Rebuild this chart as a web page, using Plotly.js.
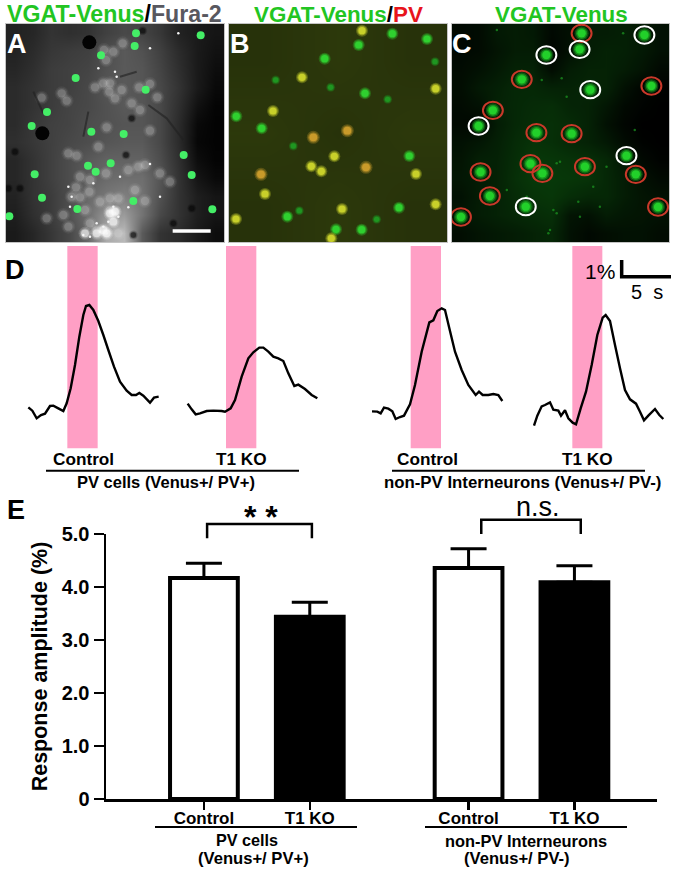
<!DOCTYPE html>
<html>
<head>
<meta charset="utf-8">
<script src="https://cdn.plot.ly/plotly-3.0.1.min.js"></script>
<style>body{margin:0;background:#fff}#chart{width:675px;height:871px}</style>
</head>
<body>
<div id="chart"></div>
<script>

// --- Panel A ---
const aGrey = [
  [34,38,51,47,51,64,72,68,55,34,26,21],
  [34,43,55,60,64,77,89,81,64,43,26,17],
  [38,47,60,64,68,81,89,85,68,47,26,13],
  [43,51,60,64,72,85,89,85,72,51,26,9],
  [43,51,60,68,72,81,89,85,72,47,17,4],
  [43,55,64,68,77,81,85,85,72,43,9,3],
  [47,55,64,72,77,85,89,89,72,43,7,3],
  [38,51,64,77,89,98,98,98,77,47,13,4],
  [38,51,64,77,94,106,110,110,85,51,21,9],
  [34,51,60,77,106,119,128,115,81,51,30,21],
  [30,47,60,81,110,150,155,115,72,51,30,21],
  [26,38,55,72,105,170,185,90,51,43,26,13]
];
const aSomaX = [368,340,312,318,310,330,285,328,365,418,450,185,200,125,395,345,472,420,450,230,205,320,295,415,385,435,318,270,240,228,215,240,268,255,205,140,270,330,355,330,300,345,435,405,480,510,190,290,320,340,355];
const aSomaY = [130,155,150,180,250,250,262,275,270,262,252,280,302,293,310,295,292,330,392,467,460,382,440,500,510,495,520,540,530,562,590,592,575,630,680,655,670,630,595,595,605,635,603,570,520,545,645,690,700,640,700];
const aCellX = [408,602,404,303,227,437,141,95,274,371,551,264,287,332,104,575,126,232,637,28,400];
const aCellY = [100,106,138,166,234,269,336,378,395,402,465,497,515,490,523,525,593,627,628,649,603];
const aHoleX = [268,127];
const aHoleY = [127,400];
const aDarkX = [60,25,378,428,395,45,520,575,400];
const aDarkY = [565,565,465,92,355,455,670,625,705];
const aVesselX = [100,130,null,265,250,null,445,500,550,null,360,410];
const aVesselY = [275,340,null,335,410,null,315,355,420,null,230,215];
const aSpotX = [350,345,295,280,215,205,210,385,360,450,330,345,310,320,270,250,300,355,325,340,290,535,450,480];
const aSpotY = [230,215,205,550,590,560,620,622,530,492,635,640,680,700,710,705,695,650,665,620,670,100,145,590];
const aClumpX = [330,345,310,320,290,255,340];
const aClumpY = [640,635,690,700,700,700,665];
const scaleBarX = [518,632];
const scaleBarY = [693,693];

// --- Panel B (x continues over the crop boundary at 1020) ---
const bGreenX = [974,709,785,862,1008,1177,1076,1281,1095,1228,1197,1085];
const bGreenY = [176,349,385,650,688,101,135,117,280,468,623,689];
const bDimX = [827,992,880,898,1305,1163,1130];
const bDimY = [240,262,438,632,185,298,658];
const bYellowX = [906,819,1003,934,964,795,708,994,1086,1307,1248,1307,1026];
const bYellowY = [232,333,469,499,514,582,657,715,92,266,522,613,627];
const bOrangeX = [940,783,1042,1098];
const bOrangeY = [412,523,392,502];

// --- Panel C ---
const cGreen = [
  [8,10,22,25,22,8,14,25,25,28,22,14],
  [8,10,18,25,25,5,15,25,30,28,22,14],
  [10,15,22,30,30,10,25,30,30,25,18,8],
  [12,22,28,35,35,30,30,32,30,15,5,2],
  [10,15,30,35,38,40,32,30,20,8,3,0],
  [8,5,25,35,40,42,38,30,15,5,0,0],
  [15,20,28,38,45,42,35,30,22,10,2,0],
  [18,28,30,40,50,48,45,42,35,20,8,2],
  [20,25,30,42,50,50,48,45,35,25,15,8],
  [15,25,30,38,45,48,40,35,35,25,18,15],
  [20,25,30,35,38,42,18,15,25,20,18,15],
  [12,18,22,25,30,35,15,8,12,15,15,10]
];
const cRedX = [725,545,935,458,589,695,421,571,607,735,888,449,955,362];
const cRedY = [100,238,258,331,398,401,516,491,520,500,523,588,621,651];
const cWhiteX = [914,619,719,751,415,860,557];
const cWhiteY = [105,165,148,269,378,467,620];
const cSpeckX = [640,630,715,660,650,560,500,665,605,680,760,800,470,850,885,650,625,720,780];
const cSpeckY = [630,690,605,485,490,590,570,235,240,290,560,500,90,100,390,640,700,650,620];

// --- Panel D traces, crop units (right hand traces get rightCrop added) ---
const rightCrop = 1020;
const pvCtrlX = [85,97,110,123,135,150,160,175,190,200,212,225,238,250,258,268,280,295,310,325,342,360,380,395,408,418,430,450,462,476];
const pvCtrlY = [487,497,520,510,506,483,482,490,498,475,430,360,275,210,183,180,195,228,270,315,365,410,437,450,450,444,452,473,458,455];
const pvKoX = [563,575,587,600,620,640,665,675,692,705,725,745,760,778,790,805,820,835,850,865,883,895,915,935,952];
const pvKoY = [476,493,508,505,498,497,498,500,490,465,395,340,322,308,308,320,335,340,348,385,423,419,432,450,460];
const npCtrlX = [96,112,122,132,145,157,167,180,192,210,225,245,268,280,292,305,315,328,345,365,385,407,417,428,445,460,475,487];
const npCtrlY = [499,500,505,488,491,499,522,516,512,478,420,320,232,226,198,190,195,250,320,375,420,450,440,450,450,447,450,468];
const npKoX = [582,592,605,615,630,640,655,663,675,685,698,708,722,738,755,772,788,797,810,825,840,855,870,888,900,912,925,945,958,970];
const npKoY = [542,512,484,480,472,494,497,512,496,520,533,538,490,440,360,270,218,210,228,300,370,435,463,476,500,526,512,492,510,522];
const bandStart = [202,678,1232,1717];
const bandEnd = [293,769,1323,1807];
const scale1X = [1865,1865,2013];
const scale1Y = [45,95,95];

// --- Panel E ---
const barPos = [1,2,3.5,4.5];
const barLabels = ["Control","T1 KO","Control","T1 KO"];
const barValues = [4.17,3.44,4.36,4.09];
const barErrors = [0.28,0.27,0.36,0.31];
const barColors = ["#ffffff","#000000","#ffffff","#000000"];
const yTicks = [0,1,2,3,4,5];
const yTickText = ["0","1.0","2.0","3.0","4.0","5.0"];
const bracket1X = [1.03,1.03,2.02,2.02];
const bracket1Y = [4.92,5.19,5.19,4.92];
const bracket2X = [3.62,3.62,4.56,4.56];
const bracket2Y = [5.0,5.27,5.27,5.0];

const W = 675, H = 871;
const FONT = "Liberation Sans, Arial, sans-serif";
const px = v => v / W;
const py = v => 1 - v / H;
const plus = arr => arr.map(v => v + rightCrop);

function dots(x, y, xa, ya, color, size, opacity) {
  return { x, y, xaxis: xa, yaxis: ya, type: "scatter", mode: "markers", hoverinfo: "skip",
    marker: { color, size, opacity: opacity === undefined ? 1 : opacity, line: { width: 0 } } };
}
// blurry look of the micrographs: three stacked discs
function soft(x, y, xa, ya, color, size, alpha) {
  return [
    dots(x, y, xa, ya, color, size, alpha * 0.3),
    dots(x, y, xa, ya, color, size * 0.8, alpha * 0.5),
    dots(x, y, xa, ya, color, size * 0.6, alpha)
  ];
}
function line(x, y, xa, ya, color, width, opacity) {
  return { x, y, xaxis: xa, yaxis: ya, type: "scatter", mode: "lines", hoverinfo: "skip",
    cliponaxis: false, opacity: opacity === undefined ? 1 : opacity, line: { color, width, simplify: false } };
}
// ellipses in the crop's own units
function ringShapes(xs, ys, color) {
  return xs.map((x, i) => ({
    type: "circle", xref: "x3", yref: "y3", x0: x - 30, x1: x + 30, y0: ys[i] - 26, y1: ys[i] + 26,
    line: { color, width: 2 }
  }));
}
function note(text, x, y, size, opts) {
  return Object.assign({ text, x: px(x), y: py(y), xref: "paper", yref: "paper", xanchor: "center", yanchor: "middle",
    showarrow: false, font: { family: FONT, size, color: "#000" } }, opts || {});
}
function bold(s) { return "<b>" + s + "</b>"; }
const colored = (s, c) => '<span style="color:' + c + '">' + s + "</span>";

const green = "#22c522";
const panelGrid = arr => ({ z: arr, type: "heatmap", zsmooth: "best", showscale: false, hoverinfo: "skip" });
const cAllX = cRedX.concat(cWhiteX);
const cAllY = cRedY.concat(cWhiteY);

const data = [
  // A
  Object.assign(panelGrid(aGrey), { x0: 45, dx: 54.5, y0: 99, dy: 54.5, xaxis: "x", yaxis: "y", zmin: 0, zmax: 255,
    colorscale: [[0, "#000"], [1, "#fff"]] }),
  ...soft(aSomaX, aSomaY, "x", "y", "#e6e6e6", 14, 0.2),
  line(aVesselX, aVesselY, "x", "y", "#202020", 2, 0.6),
  ...soft(aDarkX, aDarkY, "x", "y", "#050505", 9, 0.5),
  dots(aHoleX, aHoleY, "x", "y", "#030303", 14),
  ...soft(aClumpX, aClumpY, "x", "y", "#ffffff", 13, 0.5),
  dots(aSpotX, aSpotY, "x", "y", "#f5f5f5", 2.5),
  dots(aCellX, aCellY, "x", "y", "#44ee66", 8),
  line(scaleBarX, scaleBarY, "x", "y", "#ffffff", 3.5),
  // B
  Object.assign(panelGrid([[30,34,30],[34,30,34],[30,34,30]]), { x0: 796, dx: 218, y0: 181, dy: 218, xaxis: "x2", yaxis: "y2",
    zmin: 0, zmax: 60, colorscale: [[0, "#000"], [1, "#4e6414"]] }),
  ...soft(bDimX, bDimY, "x2", "y2", "#1f9a22", 9, 0.9),
  ...soft(bGreenX, bGreenY, "x2", "y2", "#2fd02f", 12, 1),
  ...soft(bYellowX, bYellowY, "x2", "y2", "#c8d02a", 12, 1),
  ...soft(bOrangeX, bOrangeY, "x2", "y2", "#c89a2a", 13, 1),
  // C
  Object.assign(panelGrid(cGreen), { x0: 362, dx: 54.5, y0: 99, dy: 54.5, xaxis: "x3", yaxis: "y3", zmin: 0, zmax: 100,
    colorscale: [[0, "#000"], [1, "#0f7012"]] }),
  dots(cSpeckX, cSpeckY, "x3", "y3", "#1d9a22", 2.5, 0.7),
  ...soft(cAllX, cAllY, "x3", "y3", "#22d02a", 14, 1),
  // D
  line(pvCtrlX, pvCtrlY, "x4", "y4", "#000", 2.4),
  line(pvKoX, pvKoY, "x4", "y4", "#000", 2.4),
  line(plus(npCtrlX), npCtrlY, "x4", "y4", "#000", 2.4),
  line(plus(npKoX), npKoY, "x4", "y4", "#000", 2.4),
  line(scale1X, scale1Y, "x4", "y4", "#000", 3.5),
  // E
  { x: barPos, y: barValues, xaxis: "x5", yaxis: "y5", type: "bar", width: 0.64, hoverinfo: "skip",
    marker: { color: barColors, line: { color: "#000", width: 4 } },
    error_y: { type: "data", symmetric: false, array: barErrors, arrayminus: [0, 0, 0, 0], color: "#000", thickness: 3, width: 18 } },
  line(bracket1X, bracket1Y, "x5", "y6", "#000", 2.5),
  line(bracket2X, bracket2Y, "x5", "y6", "#000", 2.5)
];

const hidden = { visible: false, fixedrange: true };
function imgAxis(range, domain, anchor) {
  return { range, domain, anchor, showgrid: false, zeroline: false, showticklabels: false, ticks: "",
    showline: true, mirror: true, linecolor: "#c4c4c4", linewidth: 1 };
}

const layout = {
  width: W, height: H, autosize: false, showlegend: false,
  margin: { l: 0, r: 0, t: 0, b: 0 },
  paper_bgcolor: "#fff", plot_bgcolor: "rgba(0,0,0,0)",
  font: { family: FONT, color: "#000" },
  xaxis: imgAxis([18, 672], [px(6), px(224)], "y"),
  yaxis: imgAxis([726, 72], [py(242), py(24)], "x"),
  xaxis2: imgAxis([687, 1341], [px(229), px(447)], "y2"),
  yaxis2: imgAxis([726, 72], [py(242), py(24)], "x2"),
  xaxis3: imgAxis([335, 988], [px(452), px(669)], "y3"),
  yaxis3: imgAxis([726, 72], [py(242), py(24)], "x3"),
  xaxis4: Object.assign({ range: [0, 2025], domain: [0, 1], anchor: "y4" }, hidden),
  yaxis4: Object.assign({ range: [750, 0], domain: [py(495), py(245)], anchor: "x4" }, hidden),
  xaxis5: {
    range: [0.075, 5.28], domain: [px(106), px(657)], anchor: "y5",
    showgrid: false, zeroline: false, showline: true, linecolor: "#000", linewidth: 2.5,
    ticks: "outside", ticklen: 8, tickwidth: 2.5, tickcolor: "#000",
    tickvals: barPos, ticktext: barLabels.map(bold), tickangle: 0, ticklabelstandoff: -6,
    tickfont: { family: FONT, size: 17, color: "#000" }
  },
  yaxis5: {
    range: [0, 5], domain: [py(799), py(534)], anchor: "x5",
    showgrid: false, zeroline: false, showline: true, linecolor: "#000", linewidth: 2.5,
    ticks: "outside", ticklen: 10, tickwidth: 2.5, tickcolor: "#000",
    tickvals: yTicks, ticktext: yTickText.map(bold),
    tickfont: { family: FONT, size: 20, color: "#000" },
    title: { text: bold("Response amplitude (%)"), standoff: 8, font: { family: FONT, size: 21.5, color: "#000" } }
  },
  // same scale as yaxis5, carries only the brackets above 5.0
  yaxis6: Object.assign({ range: [4.8, 5.4], domain: [py(544.6), py(512.8)], anchor: "x5" }, hidden),
  shapes: bandStart.map((s, i) => ({
    type: "rect", layer: "below", xref: "x4", yref: "y4", x0: s, x1: bandEnd[i], y0: 3, y1: 610,
    fillcolor: "#ff9fc5", line: { width: 0 }
  })).concat([
    [46, 299, 470.7], [392, 645, 470.7], [155, 357, 827], [425, 627, 827]
  ].map(l => ({
    type: "line", xref: "paper", yref: "paper", x0: px(l[0]), x1: px(l[1]), y0: py(l[2]), y1: py(l[2]),
    line: { color: "#000", width: 2 }
  }))).concat(ringShapes(cRedX, cRedY, "#c9392a")).concat(ringShapes(cWhiteX, cWhiteY, "#ffffff")),
  annotations: [
    note(bold(colored("VGAT-Venus", green) + "/" + colored("Fura-2", "#58585f")), 114, 14, 23.2),
    note(bold(colored("VGAT-Venus", green) + "/" + colored("PV", "#e8141c")), 338, 14, 22.4),
    note(bold(colored("VGAT-Venus", green)), 561, 14, 22.4),
    note(bold("A"), 17, 44, 27, { font: { family: FONT, size: 27, color: "#fff" } }),
    note(bold("B"), 240, 44, 27, { font: { family: FONT, size: 27, color: "#fff" } }),
    note(bold("C"), 462, 44, 27, { font: { family: FONT, size: 27, color: "#fff" } }),
    note(bold("D"), 15, 270, 27),
    note(bold("E"), 16, 510, 27),
    note(bold("Control"), 83, 459, 17.2),
    note(bold("T1 KO"), 241.7, 459, 17.2),
    note(bold("PV cells (Venus+/ PV+)"), 166, 482, 16.5),
    note(bold("Control"), 427.7, 459, 17.2),
    note(bold("T1 KO"), 587, 459, 17.2),
    note(bold("non-PV Interneurons (Venus+/ PV-)"), 522, 482, 16.8),
    note("1%", 600, 272, 21),
    note("5&nbsp;&nbsp;s", 647, 292, 20),
    note(bold("* *"), 261, 517, 32),
    note("n.s.", 538, 507, 27),
    note(bold("PV cells"), 247, 840, 16.2),
    note(bold("(Venus+/ PV+)"), 253, 858, 16.6),
    note(bold("non-PV Interneurons"), 526, 841, 16.4),
    note(bold("(Venus+/ PV-)"), 517, 858, 16.6)
  ]
};

Plotly.newPlot("chart", data, layout, { displayModeBar: false, staticPlot: true });
</script>
</body>
</html>
